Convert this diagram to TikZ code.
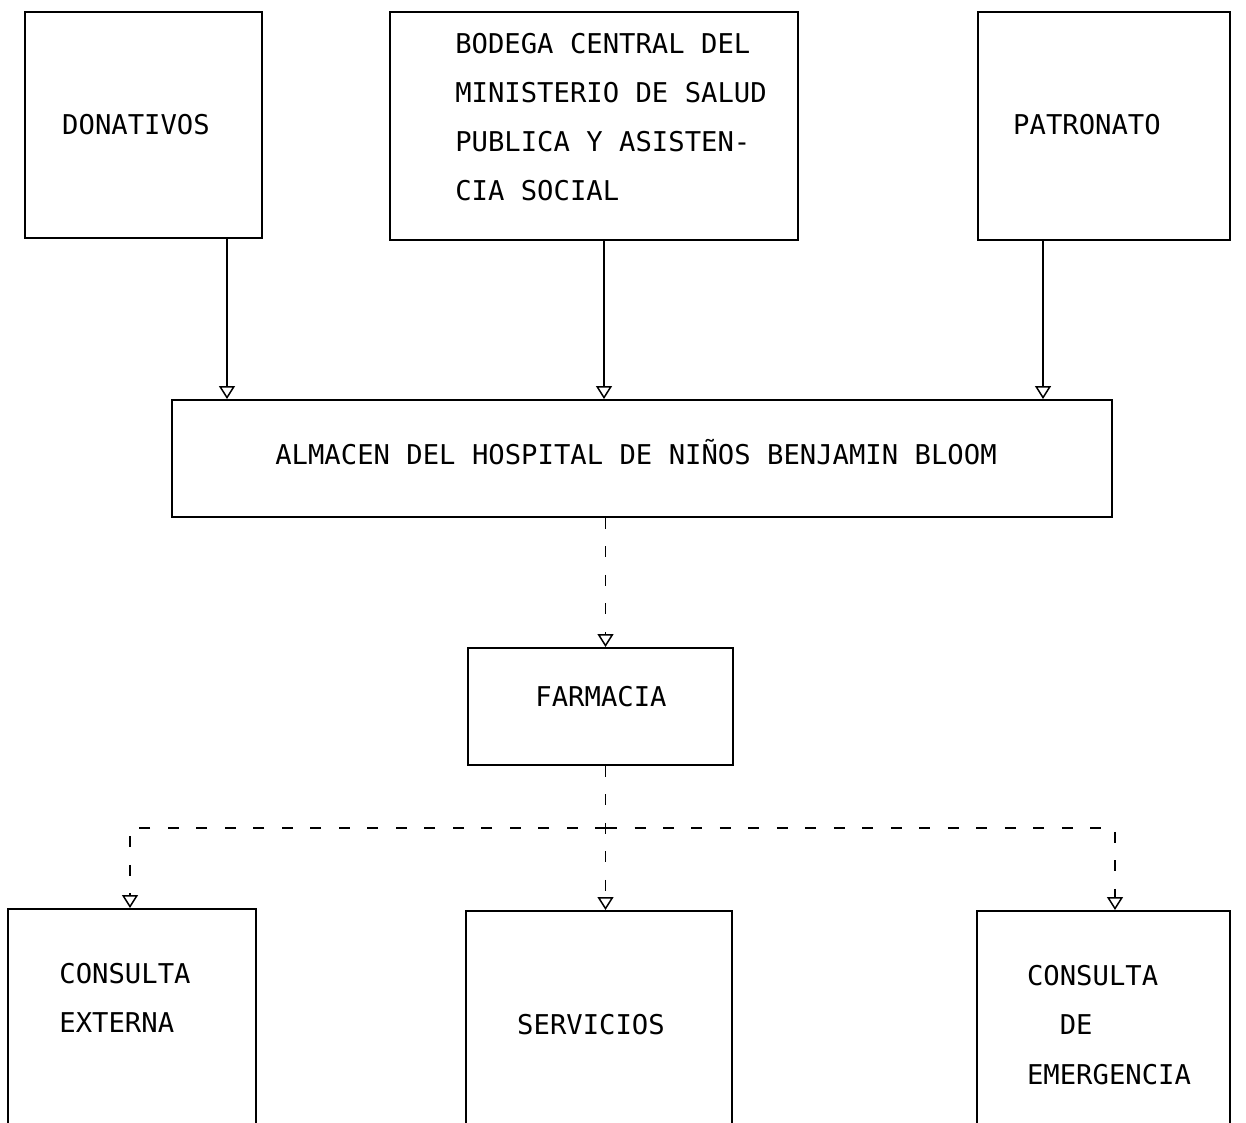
\documentclass[tikz,border=0pt]{standalone}
\usepackage{fontspec}
\usepackage{tikz}
\usetikzlibrary{arrows.meta}
\newfontfamily\typefont{DejaVu Sans Mono}

\begin{document}
\begin{tikzpicture}[x=0.02cm,y=-0.02cm,
  box/.style={draw,line width=0.4mm,inner sep=0pt},
  txt/.style={font=\typefont\fontsize{15.5}{28}\selectfont},
  flow/.style={-{Triangle[open,length=0.26cm,width=0.32cm]},line width=0.3mm},
  dashflow/.style={flow,dash pattern=on 0.22cm off 0.35cm}]
\useasboundingbox (0,0) rectangle (1246,1122);
\clip (0,0) rectangle (1246,1122);
% top row
\node[box,minimum width=4.74cm,minimum height=4.52cm] (don) at (143.5,125) {};
\node[txt] (donlbl) at (136,125) {DONATIVOS};
\node[box,minimum width=8.16cm,minimum height=4.56cm] (bod) at (594,126) {};
\node[txt,align=left] (bodlbl) at (611,117) {BODEGA CENTRAL DEL\\MINISTERIO DE SALUD\\PUBLICA Y ASISTEN-\\CIA SOCIAL};
\node[box,minimum width=5.04cm,minimum height=4.56cm] (pat) at (1104,126) {};
\node[txt] (patlbl) at (1087,125) {PATRONATO};
% almacen y farmacia
\node[box,minimum width=18.8cm,minimum height=2.34cm] (alm) at (642,458.5) {};
\node[txt] (almlbl) at (636,452) {ALMACEN DEL HOSPITAL DE NIÑOS BENJAMIN BLOOM};
\node[box,minimum width=5.3cm,minimum height=2.34cm] (farm) at (600.5,706.5) {};
\node[txt] (farmlbl) at (601,697) {FARMACIA};
% bottom row (cut off at the page edge)
\node[box,anchor=north,minimum width=4.96cm,minimum height=5cm] (ext) at (132,908) {};
\node[txt,align=left] (extlbl) at (125,998) {CONSULTA\\EXTERNA};
\node[box,anchor=north,minimum width=5.32cm,minimum height=5cm] (serv) at (599,910) {};
\node[txt] (servlbl) at (591,1025) {SERVICIOS};
\node[box,anchor=north,minimum width=5.06cm,minimum height=5cm] (emer) at (1103.5,910) {};
\node[txt,align=left] (emerlbl) at (1109,1025) {CONSULTA\\\phantom{CO}DE\\EMERGENCIA};

\draw[flow] ([xshift=1.67cm]don.south) -- ([xshift=1.67cm]don.south |- alm.north);
\draw[flow] ([xshift=0.2cm]bod.south) -- ([xshift=0.2cm]bod.south |- alm.north);
\draw[flow] ([xshift=-1.22cm]pat.south) -- ([xshift=-1.22cm]pat.south |- alm.north);
\draw[dashflow] ([xshift=0.1cm]farm.north |- alm.south) -- ([xshift=0.1cm]farm.north);

\coordinate (bus) at (606,828);
\draw[dashflow] ([xshift=0.1cm]farm.south) -- ([xshift=0.1cm]farm.south |- serv.north);
\draw[dashflow] (bus) -| ([xshift=-0.04cm]ext.north);
\draw[dashflow] (bus) -| ([xshift=0.23cm]emer.north);

\end{tikzpicture}
\end{document}
